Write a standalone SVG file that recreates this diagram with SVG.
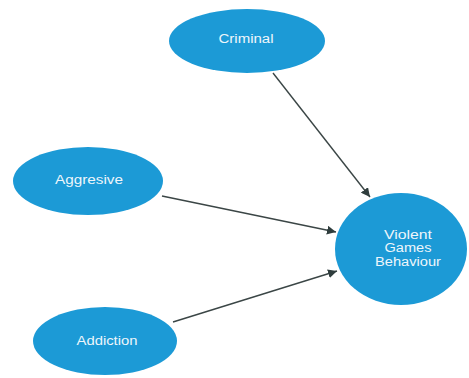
<svg xmlns="http://www.w3.org/2000/svg" width="469" height="378" viewBox="0 0 469 378">
<style>
.n{fill:#1c9ad6}
.t{font-family:"Liberation Sans",Arial,sans-serif;font-size:12px;fill:#eef6fb;text-anchor:middle;dominant-baseline:central}
.c{stroke:#3b4646;stroke-width:1.4;fill:none;marker-end:url(#ah)}
</style>
<defs>
<marker id="ah" viewBox="0 0 10 10" refX="10" refY="5" markerWidth="9" markerHeight="9" markerUnits="userSpaceOnUse" orient="auto">
<path d="M0,0 L10,5 L0,10 z" fill="#2f3d3d"/>
</marker>
</defs>
<rect width="469" height="378" fill="#fff"/>
<g id="connectors">
<line class="c" x1="273" y1="73" x2="370" y2="197"/>
<line class="c" x1="162" y1="196" x2="336" y2="232"/>
<line class="c" x1="173" y1="322" x2="337" y2="271"/>
</g>
<g id="criminal"><ellipse class="n" cx="247" cy="41" rx="78" ry="32"/><text class="t" x="246" y="39" textLength="55" lengthAdjust="spacingAndGlyphs">Criminal</text></g>
<g id="aggresive"><ellipse class="n" cx="88" cy="181" rx="75" ry="34"/><text class="t" x="89" y="180" textLength="68" lengthAdjust="spacingAndGlyphs">Aggresive</text></g>
<g id="addiction"><ellipse class="n" cx="105" cy="341" rx="72" ry="34"/><text class="t" x="107" y="341" textLength="61" lengthAdjust="spacingAndGlyphs">Addiction</text></g>
<g id="violent"><ellipse class="n" cx="401" cy="249" rx="66" ry="56"/>
<text class="t" x="408" y="235" textLength="48" lengthAdjust="spacingAndGlyphs">Violent</text>
<text class="t" x="408" y="248" textLength="47" lengthAdjust="spacingAndGlyphs">Games</text>
<text class="t" x="408" y="262" textLength="66" lengthAdjust="spacingAndGlyphs">Behaviour</text></g>
</svg>
